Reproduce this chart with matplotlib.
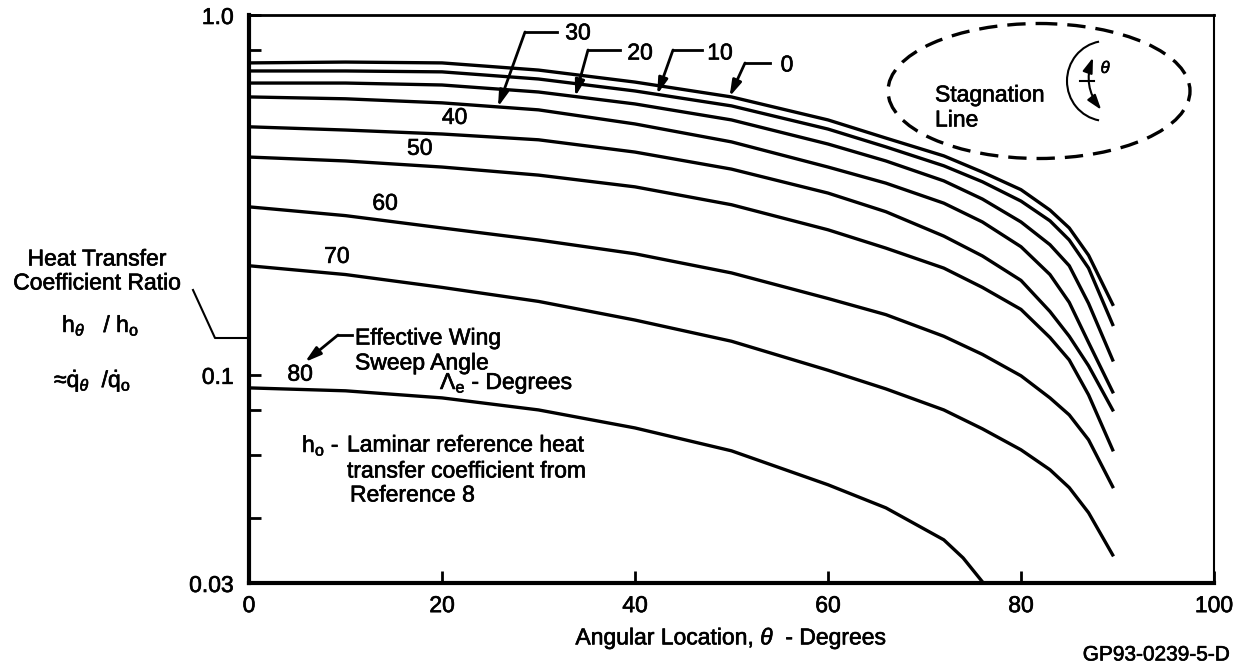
import numpy as np
import matplotlib
matplotlib.use('Agg')
import matplotlib.pyplot as plt
import matplotlib.patheffects as pe
from matplotlib.patches import Ellipse, Arc, FancyArrowPatch
from matplotlib.lines import Line2D
from matplotlib.transforms import Affine2D

plt.rcParams['font.family'] = ['Liberation Sans', 'DejaVu Sans']
plt.rcParams['mathtext.fontset'] = 'custom'
plt.rcParams['mathtext.rm'] = 'Liberation Sans'
plt.rcParams['mathtext.it'] = 'Liberation Sans:italic'
plt.rcParams['mathtext.bf'] = 'Liberation Sans:bold'

# angular location (deg) shared by the sweep curves 0..70
theta = [0, 10, 20, 30, 40, 50, 60, 66, 72, 76, 80, 83, 85, 87, 89.5]

# h_theta / h_o for each effective wing sweep angle
sweep_0 = [0.736, 0.740, 0.736, 0.703, 0.651, 0.592, 0.511, 0.455, 0.406, 0.366, 0.327, 0.287, 0.256, 0.215, 0.157]
sweep_10 = [0.699, 0.699, 0.695, 0.664, 0.615, 0.559, 0.482, 0.430, 0.381, 0.344, 0.304, 0.268, 0.237, 0.198, 0.138]
sweep_20 = [0.647, 0.647, 0.639, 0.611, 0.566, 0.511, 0.438, 0.393, 0.346, 0.308, 0.266, 0.230, 0.201, 0.158, 0.110]
sweep_30 = [0.592, 0.585, 0.570, 0.545, 0.498, 0.444, 0.378, 0.341, 0.300, 0.266, 0.227, 0.190, 0.159, 0.123, 0.0897]
sweep_40 = [0.489, 0.479, 0.467, 0.450, 0.416, 0.373, 0.320, 0.284, 0.243, 0.214, 0.183, 0.150, 0.128, 0.106, 0.0799]
sweep_50 = [0.403, 0.393, 0.378, 0.359, 0.333, 0.297, 0.253, 0.225, 0.198, 0.175, 0.152, 0.127, 0.110, 0.088, 0.0619]
sweep_60 = [0.293, 0.277, 0.256, 0.237, 0.217, 0.192, 0.163, 0.147, 0.128, 0.114, 0.0994, 0.0863, 0.0774, 0.0660, 0.0489]
sweep_70 = [0.201, 0.190, 0.175, 0.160, 0.142, 0.124, 0.103, 0.0914, 0.0799, 0.0708, 0.0619, 0.0545, 0.0486, 0.0414, 0.0316]

# the 80 deg curve runs out through the bottom of the chart
theta_80 = [0, 10, 20, 30, 40, 50, 60, 66, 72, 74, 76.1]
sweep_80 = [0.0920, 0.0903, 0.0863, 0.0799, 0.0712, 0.0615, 0.0495, 0.0427, 0.0348, 0.0310, 0.0264]

sweep_angles = [0, 10, 20, 30, 40, 50, 60, 70]
curves = [sweep_0, sweep_10, sweep_20, sweep_30, sweep_40, sweep_50, sweep_60, sweep_70]

x_ticks = [0, 20, 40, 60, 80, 100]
y_bottom = 0.0264          # where the drawn "0.03" line sits
y_ticks = [y_bottom, 0.1, 1.0]
y_ticklabels = ['0.03', '0.1', '1.0']
y_minor = [0.04, 0.06, 0.08, 0.8]

W, H = 1244, 666
FS = 16.5
ink = [pe.withStroke(linewidth=0.45, foreground='black')]   # scanned text looks heavier

fig = plt.figure(figsize=(W / 100, H / 100), dpi=100)
# pixel coords measured from the top-left corner of the picture
pix = Affine2D().scale(1 / W, -1 / H).translate(0, 1) + fig.transFigure


def T(x, y, s, ha='left', va='center', size=FS, **kw):
    return fig.text(x, y, s, transform=pix, ha=ha, va=va, fontsize=size, path_effects=ink, **kw)


ax = fig.add_axes([249 / W, 1 - 583 / H, (1214 - 249) / W, (583 - 15) / H])
ax.set_yscale('log')

for c in curves:
    ax.plot(theta, c, color='black', lw=2.4, solid_joinstyle='round')
ax.plot(theta_80, sweep_80, color='black', lw=2.4, solid_joinstyle='round')

ax.set_xlim(0, 100)
ax.set_ylim(y_bottom, 1.0)
ax.set_xticks(x_ticks)
ax.set_xticklabels([str(t) for t in x_ticks])
ax.set_yticks(y_ticks)
ax.set_yticklabels(y_ticklabels)
ax.set_yticks(y_minor, minor=True)
ax.yaxis.set_minor_formatter(plt.NullFormatter())
ax.tick_params(which='both', direction='in', length=8.6, width=2, labelsize=16.5, color='black')
ax.tick_params(axis='y', which='both', pad=11)
ax.tick_params(axis='x', pad=8)
for lab in ax.get_xticklabels() + ax.get_yticklabels():
    lab.set_path_effects(ink)

ax.spines['left'].set_linewidth(3)
ax.spines['bottom'].set_linewidth(3)
ax.spines['top'].set_linewidth(2)
ax.spines['right'].set_linewidth(1.5)


def on_curve(xs, ys, x):
    return 10 ** np.interp(x, xs, np.log10(ys))


# plain labels sitting just above their curves
for ang, c, xl in [(40, sweep_40, 21.3), (50, sweep_50, 17.7), (60, sweep_60, 14.1), (70, sweep_70, 9.1)]:
    ax.annotate(str(ang), xy=(xl, on_curve(theta, c, xl)), xytext=(0, 12.5), textcoords='offset points',
                ha='center', va='center', fontsize=FS, path_effects=ink)
ax.annotate('80', xy=(5.3, on_curve(theta_80, sweep_80, 5.3)), xytext=(0, 11), textcoords='offset points',
            ha='center', va='center', fontsize=FS, path_effects=ink)

# leader labels for the top four curves: (angle, curve, tip x, corner px, line end px, text px)
leaders = [
    (30, sweep_30, 25.8, (525, 32), 557, (578, 33)),
    (20, sweep_20, 33.8, (588, 50), 620, (640, 53)),
    (10, sweep_10, 42.3, (673, 50), 702, (720, 53)),
    (0, sweep_0, 49.8, (745, 63), 770, (787, 65)),
]
arrow_kw = dict(arrowstyle='-|>,head_length=0.95,head_width=0.28', lw=2, color='black',
                shrinkA=0, shrinkB=0, mutation_scale=10)
for ang, c, tx, corner, lend, tpos in leaders:
    ax.annotate('', xy=(tx, on_curve(theta, c, tx)), xycoords='data',
                xytext=corner, textcoords=pix, arrowprops=arrow_kw)
    fig.add_artist(Line2D([corner[0], lend], [corner[1], corner[1]], color='black', lw=2, transform=pix))
    T(tpos[0], tpos[1], str(ang), ha='center')

# "Effective Wing Sweep Angle" note with arrow to the 80 label
ax.annotate('', xy=(305, 362), xycoords=pix, xytext=(338, 335), textcoords=pix, arrowprops=arrow_kw)
fig.add_artist(Line2D([338, 352], [335, 335], color='black', lw=2, transform=pix))
T(355, 338, 'Effective Wing')
T(355, 363, 'Sweep Angle')
T(440, 383, 'Λ$_\\mathrm{e}$ - Degrees')

# reference note
T(302, 445, 'h$_\\mathrm{o}$ -')
T(347, 445, 'Laminar reference heat')
T(347, 471, 'transfer coefficient from')
T(350, 495, 'Reference 8')

# stagnation line sketch
fig.add_artist(Ellipse((1039, 91), 302, 135, transform=pix, fill=False, lw=2.4,
                       ls=(0, (5.5, 3)), color='black'))
T(935, 95, 'Stagnation')
T(935, 120, 'Line')
fig.add_artist(Arc((1106, 81), 78, 80, theta1=100, theta2=260, transform=pix, lw=1.5, color='black'))
fig.add_artist(FancyArrowPatch((1103, 112), (1094, 55), transform=pix, connectionstyle='arc3,rad=-0.3',
                               arrowstyle='<|-|>,head_length=0.9,head_width=0.3', mutation_scale=10,
                               lw=1.5, color='black'))
fig.add_artist(Line2D([1080, 1094], [81, 81], color='black', lw=1.5, transform=pix))
T(1106, 68, '$\\theta$', ha='center', size=12)

# y-axis title block
T(97, 259, 'Heat Transfer', ha='center')
T(97, 283, 'Coefficient Ratio', ha='center')
fig.add_artist(Line2D([193, 215, 247], [290, 338, 338], color='black', lw=1.5, transform=pix))
T(62, 332, 'h$_\\theta$   / h$_\\mathrm{o}$', va='baseline')
T(54, 387, '≈$\\dot{\\mathrm{q}}_\\theta$  /$\\dot{\\mathrm{q}}_\\mathrm{o}$', va='baseline')

T(731, 638, 'Angular Location, $\\theta$  - Degrees', ha='center')
T(1230, 655, 'GP93-0239-5-D', ha='right', size=15)

fig.savefig('out.png', dpi=100)
